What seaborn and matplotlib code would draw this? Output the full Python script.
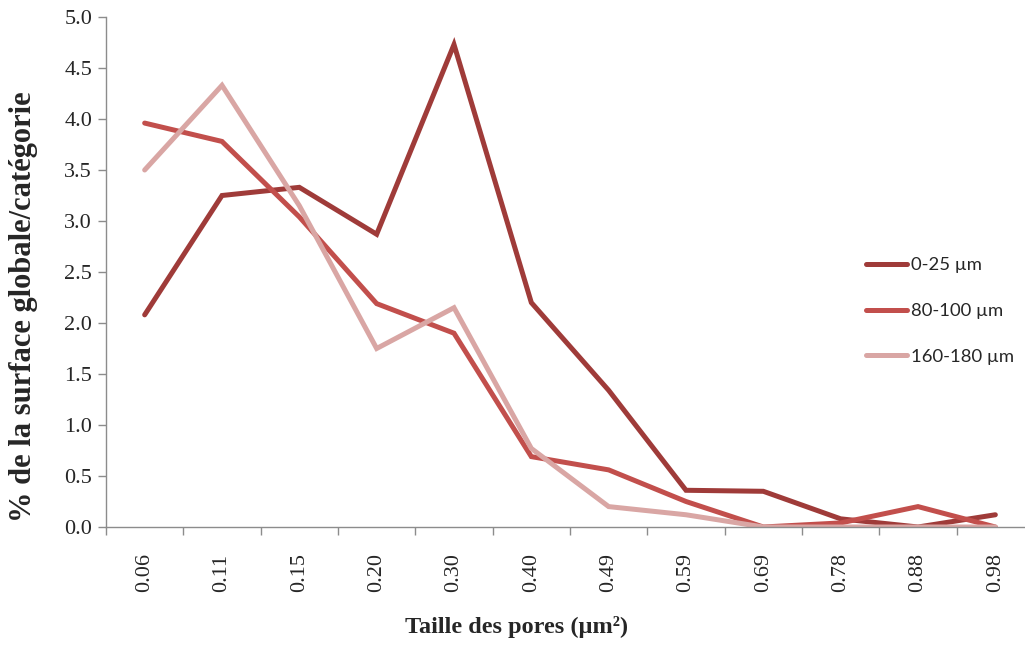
import matplotlib
matplotlib.use("Agg")
import matplotlib.pyplot as plt
from matplotlib.ticker import FixedLocator, FormatStrFormatter
import numpy as np
import pandas as pd
import seaborn as sns

# Pore size classes (µm²)
pore_sizes = ["0.06", "0.11", "0.15", "0.20", "0.30", "0.40",
              "0.49", "0.59", "0.69", "0.78", "0.88", "0.98"]

# Share of the total surface per class (%), by depth range
depth_0_25 = [2.08, 3.25, 3.33, 2.87, 4.73, 2.20, 1.34, 0.36, 0.35, 0.08, 0.00, 0.12]
depth_80_100 = [3.96, 3.78, 3.04, 2.19, 1.90, 0.69, 0.56, 0.25, 0.00, 0.04, 0.20, 0.00]
depth_160_180 = [3.50, 4.33, 3.15, 1.75, 2.15, 0.77, 0.20, 0.12, 0.00, 0.00, 0.00, 0.00]

series_names = ["0-25 µm", "80-100 µm", "160-180 µm"]
series_values = [depth_0_25, depth_80_100, depth_160_180]
colors = ["#9F3B39", "#C24F4C", "#D9A6A4"]

df = pd.concat(
    [pd.DataFrame({"taille": pore_sizes, "pct": vals, "serie": name})
     for name, vals in zip(series_names, series_values)],
    ignore_index=True,
)

sns.set_theme(style="white")
plt.rcParams["font.family"] = ["Liberation Serif", "DejaVu Serif"]

W, H = 1025, 648
fig = plt.figure(figsize=(W / 100, H / 100), dpi=100)
left, right, top, bottom = 106, 1034, 17, 527
ax = fig.add_axes([left / W, 1 - bottom / H, (right - left) / W, (bottom - top) / H])

sns.lineplot(data=df, x="taille", y="pct", hue="serie", palette=colors,
             linewidth=3.6, sort=False, ax=ax, legend=True)
for ln in ax.get_lines():
    ln.set_solid_capstyle("round")
    ln.set_solid_joinstyle("miter")

n = len(pore_sizes)
ax.set_xlim(-0.5, n - 0.5)
ax.set_ylim(0, 5.0)

# Category labels centred, tick marks between categories
ax.xaxis.set_major_locator(FixedLocator(np.arange(n)))
ax.set_xticklabels(pore_sizes, rotation=90, fontsize=16)
ax.xaxis.set_minor_locator(FixedLocator(np.arange(n + 1) - 0.5))
ax.tick_params(axis="x", which="major", length=0, pad=19)
ax.tick_params(axis="x", which="minor", length=6, width=1, color="#8C8C8C",
               direction="out", bottom=True)

ax.yaxis.set_major_locator(FixedLocator(np.arange(0, 5.01, 0.5)))
ax.yaxis.set_major_formatter(FormatStrFormatter("%.1f"))
ax.tick_params(axis="y", which="major", length=6, width=1, color="#8C8C8C",
               direction="out", left=True, labelsize=16, pad=4)

for side in ("top", "right"):
    ax.spines[side].set_visible(False)
for side in ("left", "bottom"):
    ax.spines[side].set_color("#8C8C8C")
    ax.spines[side].set_linewidth(1.0)

ax.set_xlabel("")
ax.set_ylabel("")
fig.text(517 / W, 1 - 627 / H, "Taille des pores (µm²)", ha="center", va="center",
         fontsize=17.5, fontweight="bold")
fig.text(24 / W, 1 - 307 / H, "% de la surface globale/catégorie", ha="center",
         va="center", rotation=90, fontsize=22, fontweight="bold")

handles, labels = ax.get_legend_handles_labels()
ax.legend(handles, labels, loc="center left",
          bbox_to_anchor=(866 / W, 1 - 311 / H), bbox_transform=fig.transFigure,
          frameon=False, prop={"family": "Lato", "size": 13.3},
          handlelength=2.2, handletextpad=0.25, labelspacing=1.6,
          borderpad=0, borderaxespad=0)

fig.savefig("out.png", dpi=100)
